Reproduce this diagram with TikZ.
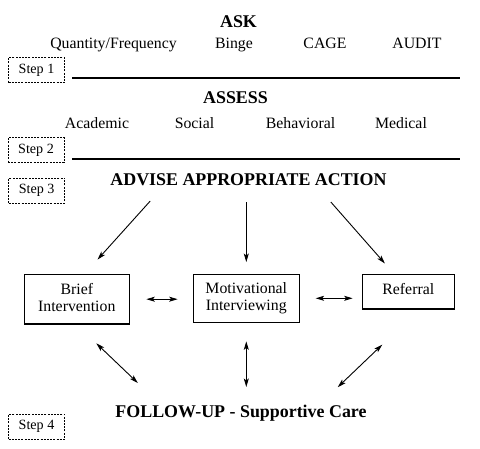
\documentclass[tikz,border=0pt]{standalone}
\usepackage{fontspec}
\setmainfont{Liberation Serif}
\usetikzlibrary{arrows.meta,positioning,calc}
\tikzstyle{heading} = [font=\fontsize{17.9}{20}\selectfont\bfseries, inner sep=0pt, anchor=base]
\tikzstyle{item} = [font=\fontsize{15.8}{18}\selectfont, inner sep=0pt, anchor=base]
\tikzstyle{stepbox} = [draw, line width=0.9pt, dash pattern=on 2pt off 1.2pt,
    minimum width=56pt, minimum height=25pt, inner sep=0pt,
    font=\fontsize{14.1}{16}\selectfont]
\tikzstyle{block} = [draw, rectangle, line width=1.3pt, align=center, inner sep=0pt,
    font=\fontsize{15.8}{17}\selectfont]
\tikzstyle{rule} = [line width=1.8pt]
\tikzstyle{connector} = [-{Stealth[length=8.5pt,width=5pt,inset=2pt]}, line width=0.9pt]
\tikzstyle{twoway} = [{Stealth[length=8.5pt,width=5pt,inset=2pt]}-{Stealth[length=8.5pt,width=5pt,inset=2pt]}, line width=0.9pt]

\begin{document}
\begin{tikzpicture}[x=1pt,y=-1pt]
		\useasboundingbox (0,0) rectangle (480,448);
		% step 1
		\node[heading] (ask) at (238.5,27) {ASK};
		\node[item] (qf) at (113.5,48.5) {Quantity/Frequency};
		\node[item] (binge) at (234,48.5) {Binge};
		\node[item] (cage) at (325,48.5) {CAGE};
		\node[item] (audit) at (417,48.5) {AUDIT};
		\node[stepbox] (s1) at (36.5,70) {Step 1};
		\draw[rule] (72,78.3) -- (460,78.3);
		% step 2
		\node[heading] (assess) at (235.5,103) {ASSESS};
		\node[item] (acad) at (97,128) {Academic};
		\node[item] (social) at (194.5,128) {Social};
		\node[item] (behav) at (300.5,128) {Behavioral};
		\node[item] (medic) at (401,128) {Medical};
		\node[stepbox] (s2) at (36,150) {Step 2};
		\draw[rule] (72,159) -- (460,159);
		% step 3
		\node[stepbox] (s3) at (36.7,190.5) {Step 3};
		\node[heading] (advise) at (248.5,185) {ADVISE APPROPRIATE ACTION};
		\node[block, minimum width=105pt, minimum height=49.7pt, text depth=4pt] (brief) at (76.8,299.2) {Brief\\Intervention};
		\node[block, minimum width=106pt, minimum height=48pt] (mi) at (246.3,298.3) {Motivational\\Interviewing};
		\node[block, minimum width=92pt, minimum height=34.7pt, text depth=6pt] (ref) at (408.3,291.7) {Referral};
		% step 4
		\node[heading] (follow) at (241,417) {FOLLOW-UP - Supportive Care};
		\node[stepbox] (s4) at (36.5,426.8) {Step 4};

		\draw[connector, shorten <=21pt, shorten >=19pt] ([xshift=54pt]advise.south west) -- ([xshift=8pt]brief.north);
		\draw[connector, shorten <=16.7pt, shorten >=11.6pt] (advise.south -| mi.north) -- (mi.north);
		\draw[connector, shorten <=22pt, shorten >=13.6pt] ([xshift=-70.5pt]advise.south east) -- ([xshift=-14.4pt]ref.north);
		\draw[twoway, shorten <=16.4pt, shorten >=15pt] (brief.east) -- (brief.east -| mi.west);
		\draw[twoway, shorten <=15.7pt, shorten >=9pt] (mi.east) -- (mi.east -| ref.west);
		\draw[twoway, shorten <=27pt, shorten >=31pt] (brief.south) -- ([xshift=45pt]follow.north west);
		\draw[twoway, shorten <=18.4pt, shorten >=17.4pt] (mi.south) -- (mi.south |- follow.north);
		\draw[twoway, shorten <=50.5pt, shorten >=24.9pt] ([xshift=10.5pt]ref.south) -- ([xshift=-47pt]follow.north east);
	\end{tikzpicture}
\end{document}
